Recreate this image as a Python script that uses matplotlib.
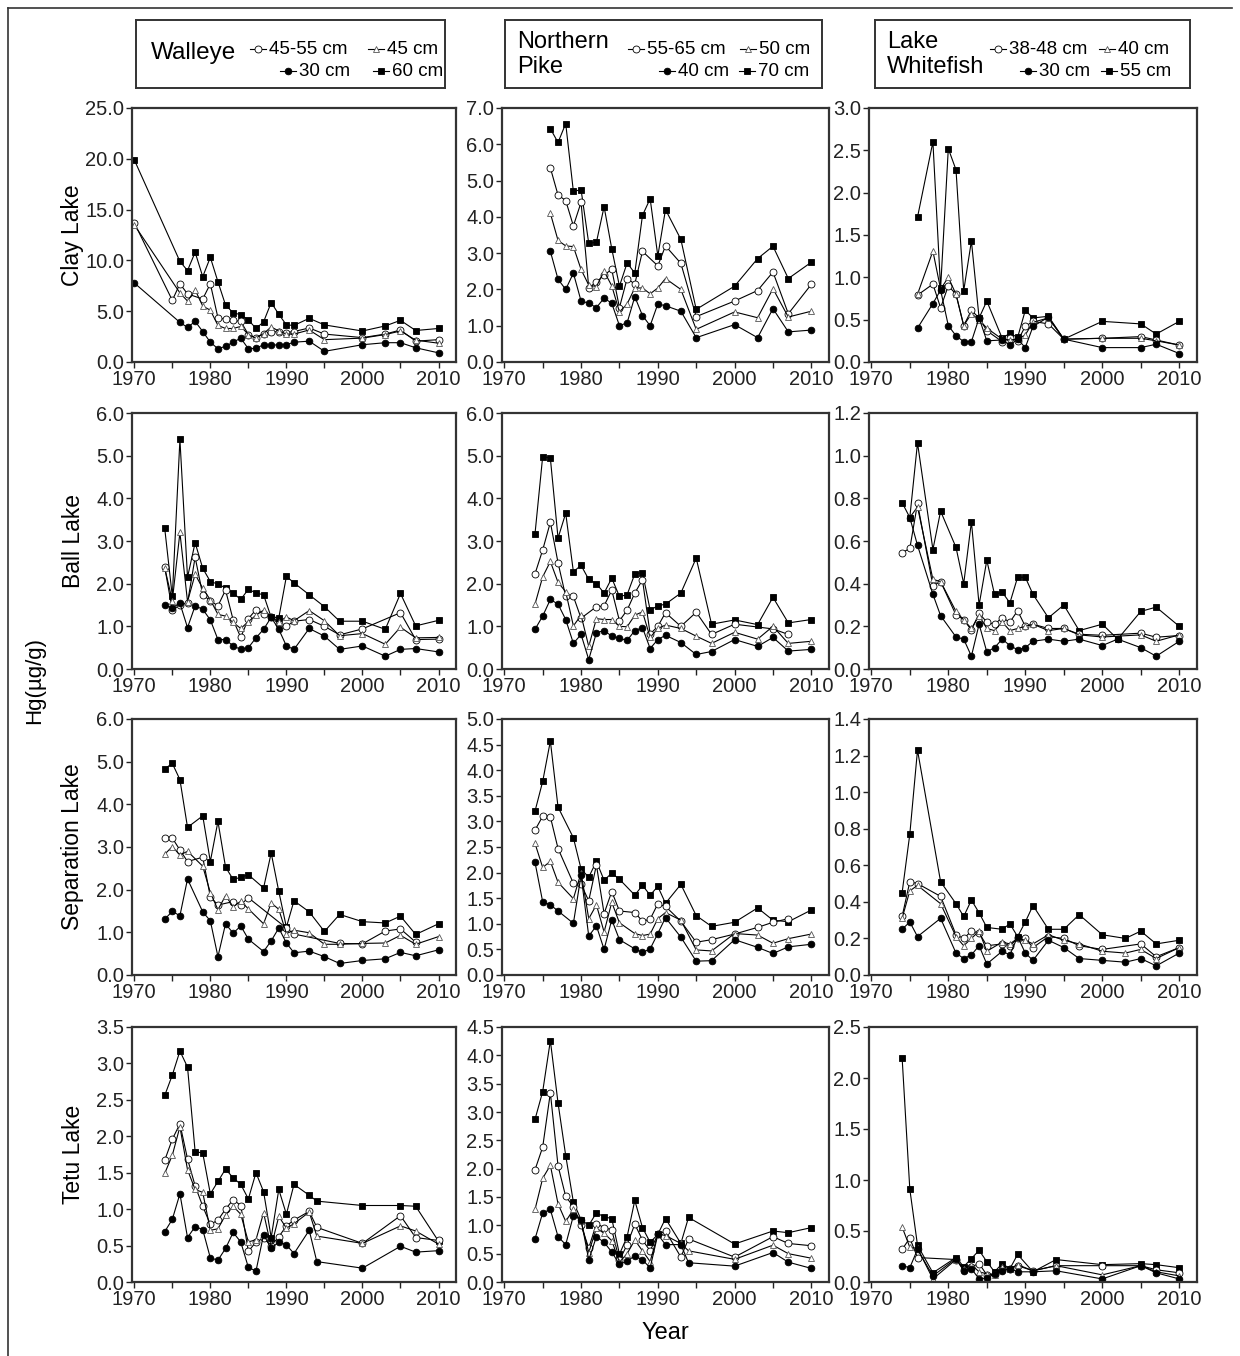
import matplotlib
matplotlib.use("Agg")
import matplotlib.pyplot as plt
from matplotlib.lines import Line2D
from matplotlib.ticker import FormatStrFormatter, MultipleLocator

plt.rcParams["font.family"] = ["Liberation Sans", "DejaVu Sans"]

W, H = 1240, 1356

# ---- data (Hg, ug/g) -------------------------------------------------------
# series order in every panel: L = open circle, M = open triangle,
# S = filled circle, X = filled square

clay_walleye_yr = [1970, 1975, 1976, 1977, 1978, 1979, 1980, 1981, 1982, 1983, 1984, 1985, 1986,
                   1987, 1988, 1989, 1990, 1991, 1993, 1995, 2000, 2003, 2005, 2007, 2010]
clay_walleye_L = [13.7, 6.07, 7.7, 6.7, None, 6.2, 7.7, 4.35, 4.2, 4.1, 4.0, 2.7, 2.4,
                  2.8, 3.0, 2.95, 2.9, 3.0, 3.35, 2.75, 2.4, 2.75, 3.15, 2.05, 2.2]
clay_walleye_M = [13.5, None, 6.8, 6.0, 7.1, 5.5, 5.1, 3.6, 3.3, 3.3, 3.5, 2.7, 2.35,
                  2.8, 3.45, 3.05, 2.75, 2.75, 3.15, 2.2, 2.35, 2.7, 3.05, 2.15, 1.85]
clay_walleye_S = [7.78, None, 3.9, 3.4, 4.0, 3.0, 1.95, 1.3, 1.55, 1.95, 2.35, 1.3, 1.35,
                  1.7, 1.65, 1.7, 1.7, 1.95, 2.05, 1.05, 1.7, 1.9, 1.9, 1.4, 0.9]
clay_walleye_X = [19.9, None, 9.9, 9.0, 10.8, 8.4, 10.3, 7.9, 5.6, 4.85, 4.65, 4.15, 3.3,
                  3.95, 5.85, 4.7, 3.65, 3.6, 4.3, 3.65, 3.05, 3.55, 4.1, 3.1, 3.3]

clay_pike_yr = [1976, 1977, 1978, 1979, 1980, 1981, 1982, 1983, 1984, 1985, 1986, 1987,
                1988, 1989, 1990, 1991, 1993, 1995, 2000, 2003, 2005, 2007, 2010]
clay_pike_L = [5.35, 4.6, 4.45, 3.75, 4.4, 2.05, 2.2, 2.4, 2.55, 1.5, 2.3, 2.15,
               3.05, None, 2.65, 3.2, 2.72, 1.25, 1.68, 1.97, 2.48, 1.33, 2.14]
clay_pike_M = [4.1, 3.35, 3.2, 3.18, 2.55, 2.12, 2.08, 2.5, 2.1, 1.38, 1.6, 2.04,
               2.04, 1.88, 2.04, 2.3, 2.0, 0.9, 1.38, 1.22, 2.02, 1.24, 1.4]
clay_pike_S = [3.05, 2.28, 2.0, 2.45, 1.68, 1.62, 1.5, 1.76, 1.62, 1.0, 1.08, 1.8,
               1.28, 1.0, 1.6, 1.55, 1.4, 0.67, 1.03, 0.67, 1.47, 0.83, 0.88]
clay_pike_X = [6.43, 6.05, 6.57, 4.7, 4.75, 3.27, 3.3, 4.28, 3.12, 2.09, 2.73, 2.45,
               4.04, 4.5, 2.92, 4.2, 3.38, 1.45, 2.09, 2.85, 3.19, 2.3, 2.75]

clay_white_yr = [1976, 1978, 1979, 1980, 1981, 1982, 1983, 1984, 1985, 1987,
                 1988, 1989, 1990, 1991, 1993, 1995, 2000, 2005, 2007, 2010]
clay_white_L = [0.79, 0.92, 0.64, 0.9, 0.8, 0.43, 0.61, 0.52, 0.37, 0.24,
                0.28, 0.25, 0.42, 0.48, 0.45, 0.27, 0.28, 0.3, 0.26, 0.2]
clay_white_M = [0.8, 1.31, 0.86, 1.0, 0.8, 0.43, 0.57, 0.5, 0.4, 0.27,
                0.26, 0.27, 0.32, 0.47, 0.52, 0.27, 0.28, 0.28, 0.25, 0.2]
clay_white_S = [0.4, 0.69, 0.85, 0.43, 0.31, 0.24, 0.24, 0.52, 0.25, 0.26,
                0.2, 0.27, 0.17, 0.42, 0.53, 0.27, 0.17, 0.17, 0.21, 0.1]
clay_white_X = [1.71, 2.6, 0.87, 2.52, 2.27, 0.84, 1.43, 0.52, 0.72, 0.28,
                0.34, 0.29, 0.61, 0.52, 0.54, 0.27, 0.48, 0.45, 0.33, 0.48]

ball_walleye_yr = [1974, 1975, 1976, 1977, 1978, 1979, 1980, 1981, 1982, 1983, 1984, 1985, 1986,
                   1987, 1988, 1989, 1990, 1991, 1993, 1995, 1997, 2000, 2003, 2005, 2007, 2010]
ball_walleye_L = [2.39, 1.38, 1.5, 1.55, 2.62, 1.74, 1.6, 1.48, 1.85, 1.15, 0.74, 1.18, 1.39,
                  1.3, 1.22, 1.05, 1.0, 1.12, 1.16, 1.0, 0.8, 0.94, None, 1.32, 0.69, 0.7]
ball_walleye_M = [2.37, 1.6, 3.2, 1.58, 2.22, 1.89, 1.62, 1.28, 1.24, 1.09, 0.95, 1.11, 1.26,
                  1.38, 1.23, 1.1, 1.22, 1.13, 1.37, 1.13, 0.78, 0.83, 0.58, 0.98, 0.73, 0.74]
ball_walleye_S = [1.49, 1.44, 1.54, 0.97, 1.48, 1.4, 1.15, 0.69, 0.69, 0.54, 0.46, 0.5, 0.73,
                  0.93, 1.21, 0.93, 0.54, 0.46, 0.95, 0.77, 0.46, 0.54, 0.3, 0.46, 0.48, 0.4]
ball_walleye_X = [3.3, 1.7, 5.38, 2.15, 2.96, 2.36, 2.05, 1.99, 1.9, 1.78, 1.63, 1.87, 1.78,
                  1.74, 1.21, 1.2, 2.17, 2.02, 1.74, 1.46, 1.12, 1.12, 0.93, 1.77, 1.01, 1.14]

ball_pike_yr = [1974, 1975, 1976, 1977, 1978, 1979, 1980, 1981, 1982, 1983, 1984, 1985, 1986,
                1987, 1988, 1989, 1990, 1991, 1993, 1995, 1997, 2000, 2003, 2005, 2007, 2010]
ball_pike_L = [2.23, 2.79, 3.44, 2.49, 1.7, 1.7, 1.19, None, 1.46, 1.48, 1.85, 1.13, 1.38,
               1.78, 2.09, 0.82, 1.0, 1.32, 1.0, 1.33, 0.81, 1.05, None, 0.94, 0.81, None]
ball_pike_M = [1.52, 2.16, 2.52, 2.03, 1.81, 1.01, 1.26, 0.53, 1.18, 1.16, 1.16, 1.0, 0.99,
               1.26, 1.34, 0.74, 0.95, 1.03, 0.95, 0.77, 0.6, 0.86, 0.7, 1.0, 0.6, 0.65]
ball_pike_S = [0.93, 1.24, 1.63, 1.52, 1.16, 0.6, 0.81, 0.22, 0.85, 0.9, 0.77, 0.72, 0.67,
               0.9, 0.97, 0.48, 0.69, 0.79, 0.62, 0.34, 0.41, 0.69, 0.53, 0.74, 0.42, 0.46]
ball_pike_X = [3.17, 4.98, 4.94, 3.07, 3.65, 2.28, 2.43, 2.1, 2.0, 1.78, 2.13, 1.7, 1.74,
               2.23, 2.26, 1.38, 1.48, 1.52, 1.78, 2.6, 1.05, 1.15, 1.04, 1.68, 1.08, 1.16]

ball_white_yr = [1974, 1975, 1976, 1978, 1979, 1981, 1982, 1983, 1984, 1985, 1986, 1987,
                 1988, 1989, 1990, 1991, 1993, 1995, 1997, 2000, 2002, 2005, 2007, 2010]
ball_white_L = [0.545, 0.565, 0.776, 0.39, 0.41, 0.253, 0.232, 0.182, 0.261, 0.22, 0.21, 0.24,
                0.22, 0.273, 0.2, 0.21, 0.19, 0.19, 0.163, 0.158, None, 0.168, 0.149, 0.157]
ball_white_M = [None, 0.71, 0.76, 0.42, 0.41, 0.27, 0.23, 0.19, 0.25, 0.19, 0.18, 0.22,
                0.18, 0.19, 0.2, 0.21, 0.18, 0.19, 0.16, 0.15, None, 0.16, 0.13, 0.16]
ball_white_S = [None, 0.71, 0.58, 0.35, 0.25, 0.15, 0.14, 0.06, 0.21, 0.08, 0.1, 0.14,
                0.11, 0.09, 0.1, 0.13, 0.14, 0.13, 0.14, 0.11, 0.14, 0.1, 0.06, 0.13]
ball_white_X = [0.78, 0.71, 1.06, 0.56, 0.74, 0.57, 0.4, 0.69, 0.3, 0.51, 0.35, 0.36,
                0.31, 0.43, 0.43, 0.35, 0.24, 0.3, 0.18, 0.21, 0.14, 0.27, 0.29, 0.2]

sep_walleye_yr = [1974, 1975, 1976, 1977, 1979, 1980, 1981, 1982, 1983, 1984, 1985, 1987,
                  1988, 1989, 1990, 1991, 1993, 1995, 1997, 2000, 2003, 2005, 2007, 2010]
sep_walleye_L = [3.22, 3.21, 2.93, 2.66, 2.76, 1.83, 1.64, None, 1.72, 1.65, 1.81, None,
                 None, None, 1.1, 0.96, None, None, 0.74, 0.73, 1.03, 1.08, 0.77, None]
sep_walleye_M = [2.83, 3.01, 2.81, 2.9, 2.55, 1.93, 1.53, 1.86, 1.6, 1.73, 1.55, 1.2,
                 1.69, 1.54, 0.97, 1.05, 0.99, 0.72, 0.72, 0.74, 0.75, 0.93, 0.72, 0.9]
sep_walleye_S = [1.31, 1.49, 1.39, 2.25, 1.48, 1.27, 0.43, 1.2, 0.98, 1.15, 0.84, 0.55,
                 0.8, 1.1, 0.75, 0.52, 0.56, 0.43, 0.27, 0.34, 0.38, 0.53, 0.45, 0.59]
sep_walleye_X = [4.83, 4.96, 4.58, 3.46, 3.73, 2.66, 3.6, 2.53, 2.24, 2.29, 2.35, 2.04,
                 2.86, 1.96, 1.12, 1.74, 1.48, 1.02, 1.42, 1.25, 1.22, 1.38, 0.95, 1.2]

sep_pike_yr = [1974, 1975, 1976, 1977, 1979, 1980, 1981, 1982, 1983, 1984, 1985, 1987,
               1988, 1989, 1990, 1991, 1993, 1995, 1997, 2000, 2003, 2005, 2007, 2010]
sep_pike_L = [2.83, 3.1, 3.09, 2.47, 1.79, 1.77, 1.45, 2.15, 1.2, 1.63, 1.25, 1.22,
              1.05, 1.09, 1.39, 1.34, 1.05, 0.64, 0.69, 0.8, 0.93, 1.03, 1.1, None]
sep_pike_M = [2.57, 2.1, 2.22, 1.81, 1.49, 2.0, 1.1, 1.37, 0.84, 1.42, 1.02, 0.81,
              0.77, 0.8, 1.1, 1.22, 1.07, 0.49, 0.47, 0.81, 0.78, 0.62, 0.71, 0.8]
sep_pike_S = [2.2, 1.43, 1.37, 1.25, 1.01, 1.95, 0.76, 0.96, 0.5, 1.08, 0.69, 0.51,
              0.44, 0.51, 0.81, 1.12, 0.74, 0.27, 0.28, 0.69, 0.54, 0.42, 0.55, 0.6]
sep_pike_X = [3.2, 3.78, 4.57, 3.28, 2.68, 2.07, 1.91, 2.22, 1.85, 1.99, 1.87, 1.56,
              1.75, 1.56, 1.73, 1.4, 1.77, 1.16, 0.95, 1.03, 1.31, 1.07, 1.04, 1.27]

sep_white_yr = [1974, 1975, 1976, 1979, 1981, 1982, 1983, 1984, 1985, 1987, 1988,
                1989, 1990, 1991, 1993, 1995, 1997, 2000, 2003, 2005, 2007, 2010]
sep_white_L = [0.32, 0.51, 0.5, 0.43, 0.22, 0.2, 0.24, 0.23, 0.16, 0.17, 0.16,
               0.2, 0.2, 0.15, 0.21, 0.2, 0.16, 0.14, None, 0.17, 0.1, 0.15]
sep_white_M = [0.31, 0.46, 0.49, 0.39, 0.21, 0.16, 0.2, 0.24, 0.13, 0.18, 0.17,
               0.2, 0.19, 0.17, 0.22, 0.19, 0.17, 0.13, 0.12, 0.14, 0.09, 0.15]
sep_white_S = [0.25, 0.29, 0.21, 0.31, 0.12, 0.09, 0.11, 0.16, 0.06, 0.13, 0.11,
               0.21, 0.12, 0.08, 0.19, 0.15, 0.09, 0.08, 0.07, 0.09, 0.05, 0.12]
sep_white_X = [0.45, 0.77, 1.23, 0.51, 0.39, 0.32, 0.41, 0.34, 0.26, 0.25, 0.28,
               0.21, 0.29, 0.38, 0.25, 0.25, 0.33, 0.22, 0.2, 0.24, 0.17, 0.19]

tetu_walleye_yr = [1974, 1975, 1976, 1977, 1978, 1979, 1980, 1981, 1982, 1983, 1984, 1985,
                   1986, 1987, 1988, 1989, 1990, 1991, 1993, 1994, 2000, 2005, 2007, 2010]
tetu_walleye_L = [1.67, 1.96, 2.17, 1.69, 1.32, 1.04, 0.79, 0.85, 1.0, 1.13, 1.05, 0.42,
                  0.55, 0.6, 0.5, 0.62, 0.77, 0.85, 0.97, 0.75, 0.53, 0.91, 0.61, 0.57]
tetu_walleye_M = [1.49, 1.74, 2.13, 1.54, 1.27, 1.23, 0.71, 0.73, 0.92, 1.04, 0.93, 0.55,
                  0.58, 0.95, 0.48, 0.9, 0.74, 0.8, 0.96, 0.63, 0.53, 0.77, 0.7, 0.52]
tetu_walleye_S = [0.69, 0.86, 1.21, 0.61, 0.76, 0.72, 0.33, 0.3, 0.46, 0.68, 0.55, 0.2,
                  0.15, 0.65, 0.46, 0.55, 0.51, 0.39, 0.71, 0.28, 0.19, 0.49, 0.41, 0.43]
tetu_walleye_X = [2.56, 2.84, 3.17, 2.95, 1.79, 1.77, 1.21, 1.38, 1.55, 1.43, 1.34, 1.14,
                  1.5, 1.24, 0.61, 1.27, 0.93, 1.34, 1.19, 1.11, 1.05, 1.05, 1.04, 0.56]

tetu_pike_yr = [1974, 1975, 1976, 1977, 1978, 1979, 1980, 1981, 1982, 1983, 1984, 1985,
                1986, 1987, 1988, 1989, 1990, 1991, 1993, 1994, 2000, 2005, 2007, 2010]
tetu_pike_L = [1.98, 2.38, 3.34, 2.05, 1.51, 1.33, 1.0, 0.6, 1.03, 0.96, 0.92, 0.38,
               0.66, 1.02, 0.74, 0.55, 0.84, 0.9, 0.44, 0.76, 0.44, 0.8, 0.68, 0.64]
tetu_pike_M = [1.28, 1.83, 2.06, 1.38, 1.07, 1.28, 1.07, 0.52, 0.95, 0.86, 0.73, 0.35,
               0.5, 0.74, 0.55, 0.36, 0.85, 0.82, 0.68, 0.55, 0.4, 0.65, 0.5, 0.42]
tetu_pike_S = [0.76, 1.22, 1.28, 0.8, 0.66, 1.17, 1.1, 0.39, 0.8, 0.7, 0.53, 0.31,
               0.37, 0.46, 0.39, 0.25, 0.84, 0.66, 0.66, 0.34, 0.28, 0.52, 0.35, 0.24]
tetu_pike_X = [2.87, 3.36, 4.26, 3.16, 2.23, 1.41, 1.1, 1.0, 1.22, 1.15, 1.12, 0.49,
               0.8, 1.44, 0.96, 0.7, 0.84, 1.12, 0.68, 1.14, 0.67, 0.9, 0.87, 0.96]

tetu_white_yr = [1974, 1975, 1976, 1978, 1981, 1982, 1983, 1984, 1985, 1986,
                 1987, 1988, 1989, 1991, 1994, 2000, 2005, 2007, 2010]
tetu_white_L = [0.32, 0.43, 0.24, None, 0.22, 0.12, 0.15, 0.18, 0.07, 0.08,
                0.12, 0.13, 0.16, 0.11, 0.16, 0.16, 0.16, 0.12, 0.09]
tetu_white_M = [0.54, 0.34, 0.33, 0.03, 0.22, 0.13, 0.17, 0.1, 0.08, 0.07,
                0.15, 0.13, 0.17, 0.11, 0.16, 0.07, 0.16, 0.1, 0.06]
tetu_white_S = [0.16, 0.14, 0.32, 0.06, 0.23, 0.11, 0.13, 0.03, 0.04, 0.08,
                0.11, 0.13, 0.1, 0.1, 0.11, 0.03, 0.16, 0.09, 0.03]
tetu_white_X = [2.2, 0.91, 0.36, 0.09, 0.24, 0.15, 0.23, 0.31, 0.2, 0.1,
                0.18, 0.13, 0.27, 0.1, 0.22, 0.17, 0.18, 0.17, 0.14]

lakes = ["Clay Lake", "Ball Lake", "Separation Lake", "Tetu Lake"]
species = [("Walleye",), ("Northern", "Pike"), ("Lake", "Whitefish")]
size_labels = [["45-55 cm", "45 cm", "30 cm", "60 cm"],
               ["55-65 cm", "50 cm", "40 cm", "70 cm"],
               ["38-48 cm", "40 cm", "30 cm", "55 cm"]]
x_ticks = [1970, 1975, 1980, 1985, 1990, 1995, 2000, 2005, 2010]

panels = [
    [(clay_walleye_yr, clay_walleye_L, clay_walleye_M, clay_walleye_S, clay_walleye_X, 25.0, 5.0),
     (clay_pike_yr, clay_pike_L, clay_pike_M, clay_pike_S, clay_pike_X, 7.0, 1.0),
     (clay_white_yr, clay_white_L, clay_white_M, clay_white_S, clay_white_X, 3.0, 0.5)],
    [(ball_walleye_yr, ball_walleye_L, ball_walleye_M, ball_walleye_S, ball_walleye_X, 6.0, 1.0),
     (ball_pike_yr, ball_pike_L, ball_pike_M, ball_pike_S, ball_pike_X, 6.0, 1.0),
     (ball_white_yr, ball_white_L, ball_white_M, ball_white_S, ball_white_X, 1.2, 0.2)],
    [(sep_walleye_yr, sep_walleye_L, sep_walleye_M, sep_walleye_S, sep_walleye_X, 6.0, 1.0),
     (sep_pike_yr, sep_pike_L, sep_pike_M, sep_pike_S, sep_pike_X, 5.0, 0.5),
     (sep_white_yr, sep_white_L, sep_white_M, sep_white_S, sep_white_X, 1.4, 0.2)],
    [(tetu_walleye_yr, tetu_walleye_L, tetu_walleye_M, tetu_walleye_S, tetu_walleye_X, 3.5, 0.5),
     (tetu_pike_yr, tetu_pike_L, tetu_pike_M, tetu_pike_S, tetu_pike_X, 4.5, 0.5),
     (tetu_white_yr, tetu_white_L, tetu_white_M, tetu_white_S, tetu_white_X, 2.5, 0.5)],
]

# ---- styles / layout -------------------------------------------------------
STYLES = [
    dict(marker="o", mfc="white", mec="black", ms=5.0, mew=0.6),
    dict(marker="^", mfc="white", mec="#555555", ms=5.0, mew=0.6),
    dict(marker="o", mfc="black", mec="black", ms=4.8, mew=0.6),
    dict(marker="s", mfc="black", mec="black", ms=4.8, mew=0.6),
]
COLS_PX = [(132, 456), (502, 829), (869, 1197)]
ROWS_PX = [(108, 362), (413, 669), (719, 975), (1027, 1282)]
LEG_PX = [(136, 445), (505, 822), (875, 1190)]
# marker x offsets inside each legend box: (open circle, triangle, filled circle, square)
LEG_OFF = [(122, 240, 152, 245), (131, 243, 162, 242), (123, 232, 153, 234)]


def fx(x):
    return x / W


def fy(y):
    return 1 - y / H


fig = plt.figure(figsize=(W / 100, H / 100), dpi=100)

for r, row in enumerate(panels):
    top, bot = ROWS_PX[r]
    for c, (yr, L, M, S, X, ymax, ystep) in enumerate(row):
        left, right = COLS_PX[c]
        ax = fig.add_axes([fx(left), fy(bot), (right - left) / W, (bot - top) / H])
        for vals, st in zip([X, L, M, S], [STYLES[3], STYLES[0], STYLES[1], STYLES[2]]):
            pts = [(x, v) for x, v in zip(yr, vals) if v is not None]
            ax.plot([p[0] for p in pts], [p[1] for p in pts], color="black", lw=0.8, **st)
        ax.set_xlim(1969.7, 2012.3)
        ax.set_ylim(0, ymax)
        ax.set_xticks(x_ticks)
        ax.set_xticklabels([str(t) if t % 10 == 0 else "" for t in x_ticks])
        ax.yaxis.set_major_locator(MultipleLocator(ystep))
        ax.yaxis.set_major_formatter(FormatStrFormatter("%.1f"))
        ax.tick_params(direction="out", length=4, width=1, labelsize=14.5, pad=1.5,
                       colors="#222222")
        for sp in ax.spines.values():
            sp.set_linewidth(1.6)
            sp.set_color("#333333")
    fig.text(fx(73), fy((top + bot) / 2), lakes[r], rotation=90, fontsize=16.5,
             ha="center", va="center")

# legend boxes
for c, (l, rgt) in enumerate(LEG_PX):
    lax = fig.add_axes([fx(l), fy(88), (rgt - l) / W, 68 / H])
    lax.set_xlim(0, rgt - l)
    lax.set_ylim(68, 0)
    lax.set_xticks([])
    lax.set_yticks([])
    for sp in lax.spines.values():
        sp.set_linewidth(1.4)
        sp.set_color("#333333")
    if len(species[c]) == 1:
        lax.text(15, 33, species[c][0], fontsize=17.5, va="center", ha="left")
    else:
        lax.text(12, 22, species[c][0], fontsize=17, va="center", ha="left")
        lax.text(12, 47, species[c][1], fontsize=17, va="center", ha="left")
    offs = LEG_OFF[c]
    rows_y = [29, 29, 51, 51]
    for k in range(4):
        xm = offs[k]
        ym = rows_y[k]
        lax.add_line(Line2D([xm - 8, xm + 8], [ym, ym], color="black", lw=0.8))
        lax.add_line(Line2D([xm], [ym], color="black", lw=0, **STYLES[k]))
        lax.text(xm + 11, ym, size_labels[c][k], fontsize=13.5, va="center", ha="left")

fig.text(fx(35), fy(680), "Hg(\u00b5g/g)", rotation=90, fontsize=16, ha="center", va="center")
fig.text(fx(665), fy(1333), "Year", fontsize=17, ha="center", va="center")

# outer frame lines
fig.add_artist(Line2D([fx(8), fx(8)], [fy(8), fy(1356)], color="#333333", lw=1.2))
fig.add_artist(Line2D([fx(8), fx(1232)], [fy(8), fy(8)], color="#333333", lw=1.2))

fig.savefig("out.png", dpi=100)
